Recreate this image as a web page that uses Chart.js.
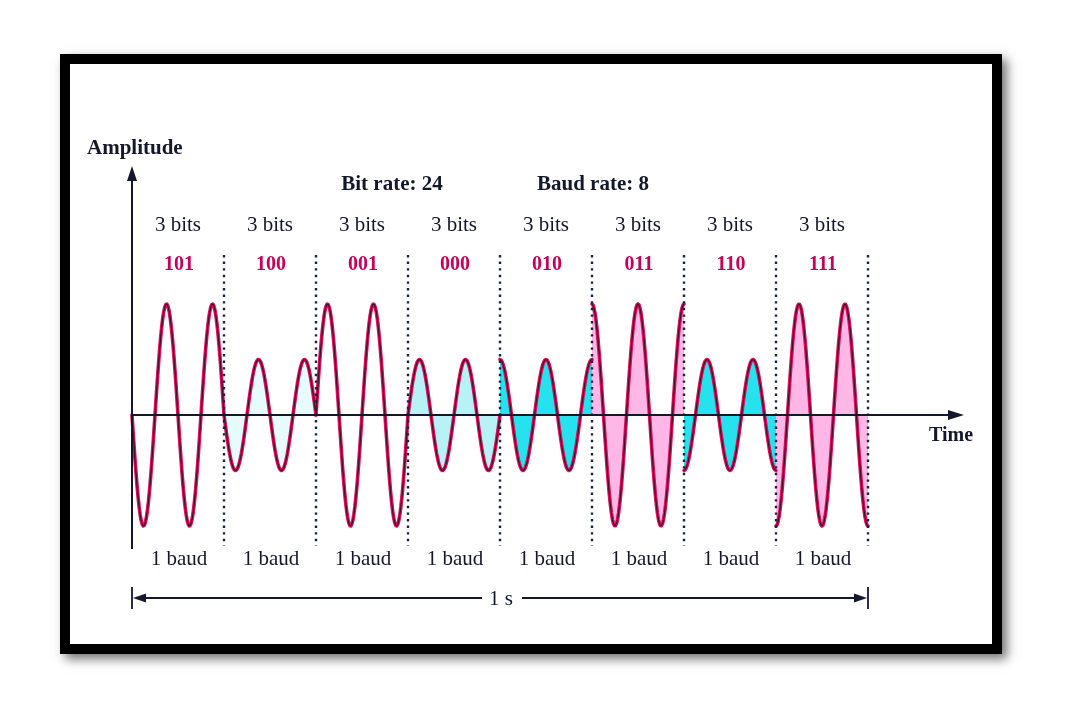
<!DOCTYPE html>
<html><head><meta charset="utf-8">
<script src="https://cdn.jsdelivr.net/npm/chart.js@4.4.1/dist/chart.umd.min.js"></script>
<style>html,body{margin:0;padding:0;background:#fff;}canvas{display:block;}</style>
</head><body>
<canvas id="c" width="1080" height="712"></canvas>
<script>
// ---- data ----
const bitGroups   = ['101','100','001','000','010','011','110','111'];
const bitCounts   = ['3 bits','3 bits','3 bits','3 bits','3 bits','3 bits','3 bits','3 bits'];
const baudLabels  = ['1 baud','1 baud','1 baud','1 baud','1 baud','1 baud','1 baud','1 baud'];
const amplitudes  = [2, 1, 2, 1, 1, 2, 1, 2];          // 2 = high, 1 = low
const phasesDeg   = [180, 180, 0, 0, 90, 90, 270, 270];
const cyclesPerBaud = [2, 2, 2, 2, 2, 2, 2, 2];
const fillColors  = ['rgba(0,0,0,0)','#e6fbfc','rgba(0,0,0,0)','#b6f2f6','#26e2ee','#ffb7e8','#26e2ee','#ffb7e8'];
const headerTexts = ['Bit rate: 24', 'Baud rate: 8'];
const yAxisTitle  = 'Amplitude';
const xAxisTitle  = 'Time';
const spanLabel   = '1 s';
const samplesPerBaud = 90;

// build per-baud waveform datasets from amplitude / phase
function baudPoints(i){
  const pts = [];
  for (let k = 0; k <= samplesPerBaud; k++){
    const f = k / samplesPerBaud;
    pts.push({x: i + f, y: amplitudes[i] * Math.sin(2*Math.PI*cyclesPerBaud[i]*f + phasesDeg[i]*Math.PI/180)});
  }
  return pts;
}
const datasets = [];
bitGroups.forEach((g, i) => {
  datasets.push({label: g, data: baudPoints(i), fill: 'origin', backgroundColor: fillColors[i],
    borderColor: '#d8125c', borderWidth: 3.6, pointRadius: 0, tension: 0, clip: false, order: 2});
});
bitGroups.forEach((g, i) => {
  datasets.push({label: g + ' core', data: baudPoints(i), fill: false, borderColor: '#4a0b26', borderWidth: 1.2,
    pointRadius: 0, tension: 0, clip: false, order: 1});
});

const SERIF = '"Liberation Serif", "DejaVu Serif", serif';
const INK = '#15182a';

function arrowHead(ctx, x, y, dir, len, half){
  ctx.beginPath();
  if (dir === 'up'){ ctx.moveTo(x, y); ctx.lineTo(x-half, y+len); ctx.lineTo(x+half, y+len); }
  if (dir === 'right'){ ctx.moveTo(x, y); ctx.lineTo(x-len, y-half); ctx.lineTo(x-len, y+half); }
  if (dir === 'left'){ ctx.moveTo(x, y); ctx.lineTo(x+len, y-half); ctx.lineTo(x+len, y+half); }
  ctx.closePath(); ctx.fill();
}

const decor = {
  id: 'decor',
  beforeDraw(chart){
    const ctx = chart.ctx;
    ctx.save();
    ctx.fillStyle = '#fff'; ctx.fillRect(0, 0, chart.width, chart.height);
    ctx.shadowColor = 'rgba(0,0,0,0.55)'; ctx.shadowBlur = 10; ctx.shadowOffsetX = 5; ctx.shadowOffsetY = 5;
    ctx.fillStyle = '#000';
    ctx.fillRect(60, 54, 942, 600);
    ctx.shadowColor = 'rgba(0,0,0,0)'; ctx.shadowBlur = 0; ctx.shadowOffsetX = 0; ctx.shadowOffsetY = 0;
    ctx.fillStyle = '#fff';
    ctx.fillRect(70, 64, 922, 580);
    ctx.restore();
  },
  afterDatasetsDraw(chart){
    const ctx = chart.ctx, xs = chart.scales.x, ys = chart.scales.y;
    const x0 = xs.getPixelForValue(0), x8 = xs.getPixelForValue(bitGroups.length);
    const y0 = ys.getPixelForValue(0);
    ctx.save();
    // dotted boundaries
    ctx.strokeStyle = '#1b2340'; ctx.lineWidth = 2.4; ctx.setLineDash([2.4, 4.2]);
    for (let i = 1; i <= bitGroups.length; i++){
      const x = xs.getPixelForValue(i);
      ctx.beginPath(); ctx.moveTo(x, 255); ctx.lineTo(x, 546); ctx.stroke();
    }
    ctx.setLineDash([]);
    // axes
    ctx.strokeStyle = INK; ctx.fillStyle = INK; ctx.lineWidth = 2;
    ctx.beginPath(); ctx.moveTo(x0, 549); ctx.lineTo(x0, 178); ctx.stroke();
    arrowHead(ctx, x0, 166, 'up', 15, 5);
    ctx.beginPath(); ctx.moveTo(x0, y0); ctx.lineTo(950, y0); ctx.stroke();
    arrowHead(ctx, 964, y0, 'right', 16, 5);
    // 1 s span
    const ys1 = 598;
    ctx.lineWidth = 1.8;
    ctx.beginPath(); ctx.moveTo(x0, 587); ctx.lineTo(x0, 609); ctx.moveTo(x8, 587); ctx.lineTo(x8, 609); ctx.stroke();
    ctx.beginPath(); ctx.moveTo(x0+10, ys1); ctx.lineTo(482, ys1); ctx.moveTo(522, ys1); ctx.lineTo(x8-10, ys1); ctx.stroke();
    arrowHead(ctx, x0+1, ys1, 'left', 13, 4.5);
    arrowHead(ctx, x8-1, ys1, 'right', 13, 4.5);
    // texts
    ctx.textBaseline = 'middle'; ctx.textAlign = 'center';
    ctx.font = '21px ' + SERIF; ctx.fillStyle = INK;
    ctx.fillText(spanLabel, 501, ys1 + 1);
    for (let i = 0; i < bitGroups.length; i++){
      const cx = xs.getPixelForValue(i + 0.5);
      ctx.font = '21px ' + SERIF; ctx.fillStyle = INK;
      ctx.fillText(bitCounts[i], cx, 225);
      ctx.fillText(baudLabels[i], cx + 1, 559);
      ctx.font = 'bold 20px ' + SERIF; ctx.fillStyle = '#c4005a';
      ctx.fillText(bitGroups[i], cx + 1, 265);
    }
    ctx.font = 'bold 21px ' + SERIF; ctx.fillStyle = INK;
    ctx.fillText(headerTexts[0], 392, 185);
    ctx.fillText(headerTexts[1], 593, 185);
    ctx.textAlign = 'left';
    ctx.fillText(yAxisTitle, 87, 149);
    ctx.font = 'bold 20px ' + SERIF;
    ctx.fillText(xAxisTitle, 929, 436);
    ctx.restore();
  }
};

new Chart(document.getElementById('c'), {
  type: 'line',
  data: {datasets},
  options: {
    responsive: false, animation: false, devicePixelRatio: 1,
    layout: {padding: {left: 132, right: 212, top: 276.25, bottom: 158.25}},
    plugins: {legend: {display: false}, tooltip: {enabled: false}, title: {display: false}},
    elements: {line: {borderCapStyle: 'round', borderJoinStyle: 'round'}},
    scales: {
      x: {type: 'linear', min: 0, max: bitGroups.length, display: false},
      y: {type: 'linear', min: -2.5, max: 2.5, display: false}
    }
  },
  plugins: [decor]
});
</script>
</body></html>
